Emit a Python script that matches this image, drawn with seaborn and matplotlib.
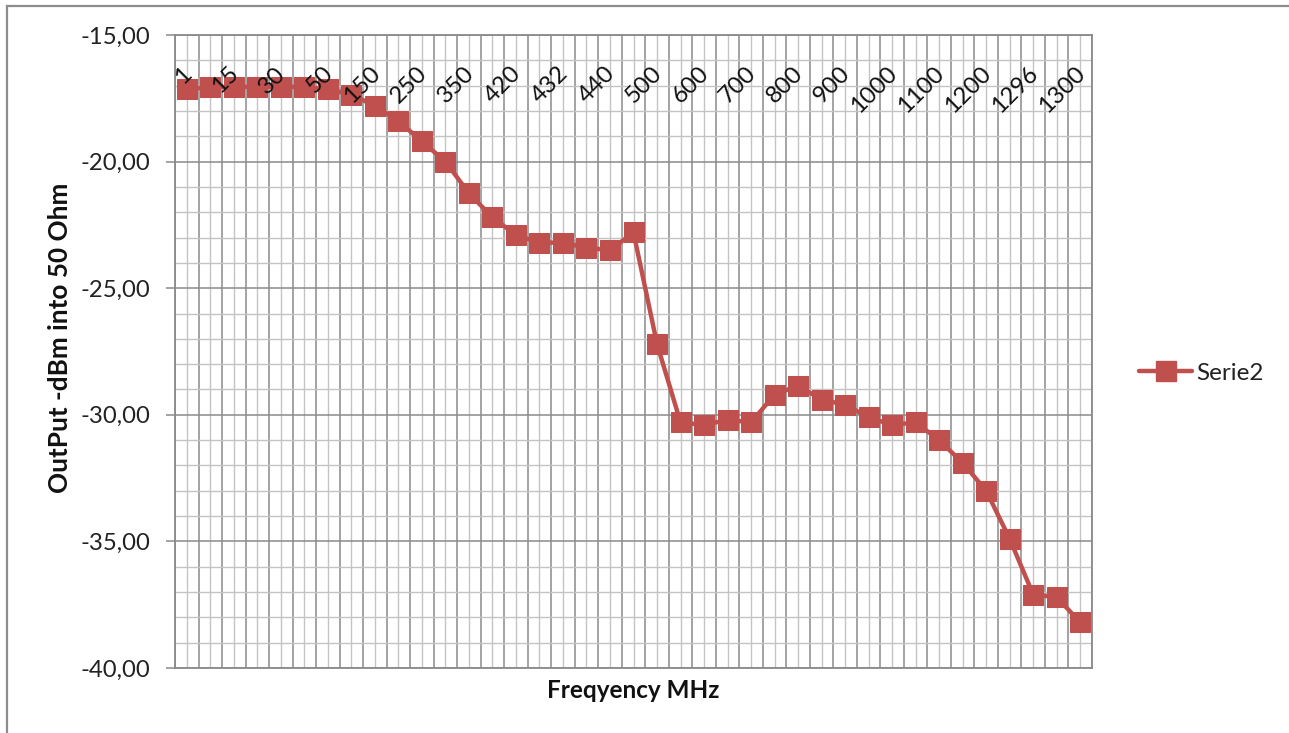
import numpy as np
import pandas as pd
import seaborn as sns
import matplotlib.pyplot as plt
from matplotlib.patches import Rectangle
from matplotlib.lines import Line2D
import matplotlib.transforms as mtransforms
from matplotlib.ticker import FixedLocator, FuncFormatter

# ---- data ----
freqs = ["1", "10", "15", "20", "30", "40", "50", "100", "150", "200", "250", "300",
         "350", "400", "420", "430", "432", "435", "440", "450", "500", "550", "600",
         "650", "700", "750", "800", "850", "900", "950", "1000", "1050", "1100",
         "1150", "1200", "1250", "1296", "1298", "1300"]
output_dbm = [-17.15, -17.05, -17.05, -17.05, -17.05, -17.05, -17.15, -17.35, -17.8,
              -18.4, -19.2, -20.0, -21.25, -22.2, -22.9, -23.2, -23.2, -23.4, -23.5,
              -22.8, -27.2, -30.3, -30.4, -30.2, -30.3, -29.2, -28.85, -29.4, -29.6,
              -30.1, -30.4, -30.3, -31.0, -31.9, -33.0, -34.9, -37.1, -37.2, -38.2]
series_name = "Serie2"
x_title = "Freqyency MHz"
y_title = "OutPut -dBm into 50 Ohm"

sns.set_theme(style="white")
plt.rcParams['font.family'] = ['Lato', 'DejaVu Sans']

W, H = 1289, 733
fig = plt.figure(figsize=(W / 100, H / 100), dpi=100)
L, R, T, B = 175, 1092, 35, 668
ax = fig.add_axes([L / W, 1 - B / H, (R - L) / W, (B - T) / H])

df = pd.DataFrame({"idx": np.arange(len(freqs)), "val": output_dbm})
red = "#C0504D"
sns.lineplot(data=df, x="idx", y="val", ax=ax, color=red, lw=3.2,
             marker="s", markersize=14.5, markeredgecolor=red, markerfacecolor=red,
             legend=False, zorder=5)

n = len(freqs)
ax.set_xlim(-0.5, n - 0.5)
ax.set_ylim(-40, -15)

# grid
ax.xaxis.set_major_locator(FixedLocator(np.arange(n + 1) - 0.5))
ax.xaxis.set_minor_locator(FixedLocator(np.arange(n)))
ax.yaxis.set_major_locator(FixedLocator(np.arange(-40, -14, 5)))
ax.yaxis.set_minor_locator(FixedLocator(np.arange(-40, -14, 1)))
ax.grid(which="major", color="#8a8a8a", lw=1.1)
ax.grid(which="minor", color="#c4c4c4", lw=1.0)
ax.set_axisbelow(True)

ax.tick_params(axis="x", which="both", bottom=False, top=False, labelbottom=False)
ax.tick_params(axis="y", which="major", left=True, length=6.5, width=1.1,
               color="#8a8a8a", pad=11, labelsize=17.2, labelcolor="#222222")
ax.tick_params(axis="y", which="minor", left=False)
ax.yaxis.set_major_formatter(FuncFormatter(lambda v, p: f"{v:.2f}".replace(".", ",")))

for s in ax.spines.values():
    s.set_color("#8a8a8a")
    s.set_linewidth(1.3)

# category labels (every second), drawn at top inside the plot
trans = mtransforms.blended_transform_factory(ax.transData, ax.transAxes)
for i in range(0, n, 2):
    ax.text(i + 0.38, 0.956, freqs[i], transform=trans, rotation=45,
            ha="right", va="top", fontsize=17.2, color="#111111", zorder=6)

ax.set_xlabel("")
ax.set_ylabel("")
fig.text((L + R) / 2 / W, 1 - 690 / H, x_title, ha="center", va="center",
         fontsize=17.5, fontweight="bold", color="#111111")
fig.text(60 / W, 1 - 338 / H, y_title, ha="center", va="center", rotation=90,
         fontsize=18.8, fontweight="bold", color="#111111")

handle = Line2D([], [], color=red, lw=3.2, marker="s", markersize=14.5)
fig.legend([handle], [series_name], loc="center left",
           bbox_to_anchor=(1139 / W, 1 - 373 / H), frameon=False,
           borderpad=0, borderaxespad=0, handlelength=2.2, handletextpad=0.15,
           fontsize=17.5, labelcolor="#222222")

fig.add_artist(Rectangle((7 / W, -0.05), 1.2, (H - 6) / H + 0.05,
                         transform=fig.transFigure, fill=False,
                         edgecolor="#8c8c8c", lw=1.6))

fig.savefig("out.png", dpi=100)
